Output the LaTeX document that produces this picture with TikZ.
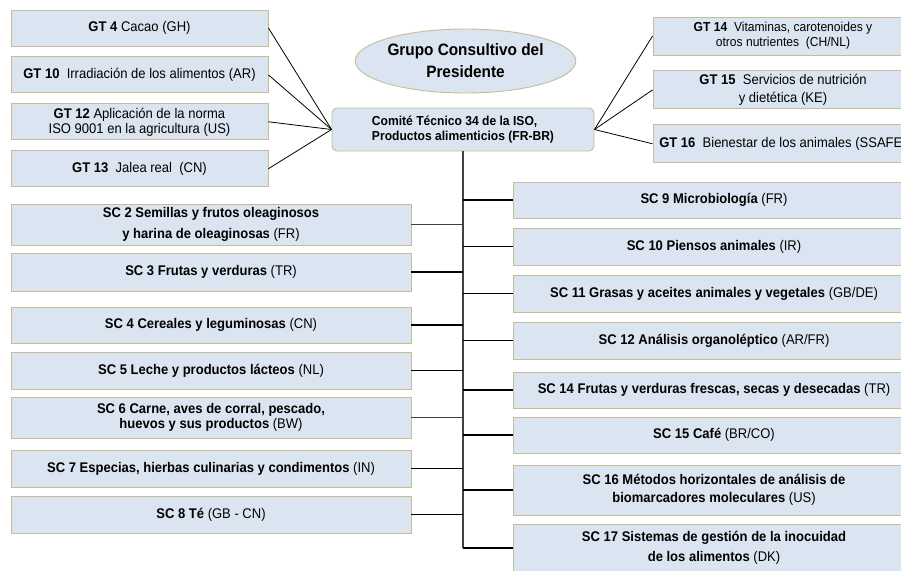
\documentclass[tikz,border=0pt]{standalone}
\usepackage{fontspec}
\setmainfont[FakeStretch=0.93]{Liberation Sans}
\usetikzlibrary{positioning,shapes.geometric}

\definecolor{boxfill}{HTML}{DBE5F1}
\definecolor{boxline}{HTML}{C4BD97}
\definecolor{trunkgray}{HTML}{404040}

\tikzset{
  unit/.style={draw=boxline, fill=boxfill, line width=0.9pt, inner sep=2pt, align=center, font=\fontsize{14}{15}\selectfont},
  gtbox/.style={unit, minimum width=257pt, minimum height=36pt},
  rgtbox/.style={unit, minimum width=260pt, minimum height=38pt},
  lscbox/.style={unit, minimum width=400pt, minimum height=37pt},
  rscbox/.style={unit, minimum width=402pt, minimum height=37pt},
  feed/.style={line width=0.8pt},
  branch/.style={line width=1.6pt},
}

\begin{document}
\begin{tikzpicture}[x=1pt, y=-1pt, node distance=10pt]
  \useasboundingbox (0,0) rectangle (901,570);
  \clip (0,0) rectangle (901,570);

  % top
  \node[ellipse, draw=boxline, fill=boxfill, line width=0.9pt, minimum width=213pt, minimum height=64pt, inner sep=0pt, align=center, font=\bfseries\fontsize{16.5}{22}\selectfont] (gcp) at (465.5,61) {Grupo Consultivo del\\Presidente};
  \node[draw=boxline, fill=boxfill, line width=0.9pt, rounded corners=5pt, minimum width=262pt, minimum height=43pt, align=left, font=\bfseries\fontsize{13}{15}\selectfont] (ctc) at (463,129.5) {Comité Técnico 34 de la ISO,\\Productos alimenticios (FR-BR)};

  % GT left
  \node[gtbox] (gt4) at (139.5,28) {\textbf{GT 4} Cacao (GH)};
  \node[gtbox, below=of gt4] (gt10) {\textbf{GT 10}\ \ Irradiación de los alimentos (AR)};
  \node[gtbox, below=of gt10] (gt12) {\textbf{GT 12} Aplicación de la norma\\ISO 9001 en la agricultura (US)};
  \node[gtbox, below=of gt12] (gt13) {\textbf{GT 13}\ \ Jalea real\ \ (CN)};

  % GT right
  \node[rgtbox, font=\fontsize{13}{15}\selectfont] (gt14) at (783,36) {\textbf{GT 14}\ \ Vitaminas, carotenoides y\\otros nutrientes\ \ (CH/NL)};
  \node[rgtbox, below=15pt of gt14] (gt15) {\textbf{GT 15}\ \ Servicios de nutrición\\[3pt]y dietética (KE)};
  \node[rgtbox, below=15pt of gt15] (gt16) {\textbf{GT 16}\ \ Bienestar de los animales (SSAFE)};

  % SC left
  \node[lscbox, minimum height=41pt] (sc2) at (211,224.5) {\textbf{SC 2 Semillas y frutos oleaginosos}\\[6pt]\textbf{y harina de oleaginosas} (FR)};
  \node[lscbox, minimum height=38pt] (sc3) at (211,272) {\textbf{SC 3 Frutas y verduras} (TR)};
  \node[lscbox, minimum height=36pt] (sc4) at (211,325) {\textbf{SC 4 Cereales y leguminosas} (CN)};
  \node[lscbox] (sc5) at (211,370.5) {\textbf{SC 5 Leche y productos lácteos} (NL)};
  \node[lscbox, minimum height=41pt] (sc6) at (211,417.5) {\textbf{SC 6 Carne, aves de corral, pescado,}\\\textbf{huevos y sus productos} (BW)};
  \node[lscbox] (sc7) at (211,468.5) {\textbf{SC 7 Especias, hierbas culinarias y condimentos} (IN)};
  \node[lscbox] (sc8) at (211,514.5) {\textbf{SC 8 Té} (GB - CN)};

  % SC right
  \node[rscbox, minimum height=36pt] (sc9) at (714,200) {\textbf{SC 9 Microbiología} (FR)};
  \node[rscbox] (sc10) at (714,246.5) {\textbf{SC 10 Piensos animales} (IR)};
  \node[rscbox] (sc11) at (714,293.5) {\textbf{SC 11 Grasas y aceites animales y vegetales} (GB/DE)};
  \node[rscbox] (sc12) at (714,340.5) {\textbf{SC 12 Análisis organoléptico} (AR/FR)};
  \node[rscbox, minimum height=36pt] (sc14) at (714,390) {\textbf{SC 14 Frutas y verduras frescas, secas y desecadas} (TR)};
  \node[rscbox, minimum height=36pt] (sc15) at (714,435) {\textbf{SC 15 Café} (BR/CO)};
  \node[rscbox, minimum height=50pt] (sc16) at (714,490) {\textbf{SC 16 Métodos horizontales de análisis de}\\[3pt]\textbf{biomarcadores moleculares} (US)};
  \node[rscbox, minimum height=48pt] (sc17) at (714,548) {\textbf{SC 17 Sistemas de gestión de la inocuidad}\\[5pt]\textbf{de los alimentos} (DK)};

  % links
  \draw[feed] (gt4.east) -- (ctc.west);
  \draw[feed] (gt10.east) -- (ctc.west);
  \draw[feed] (gt12.east) -- (ctc.west);
  \draw[feed] (gt13.east) -- (ctc.west);
  \draw[feed] (ctc.east) -- (gt14.west);
  \draw[feed] (ctc.east) -- (gt15.west);
  \draw[feed] (ctc.east) -- (gt16.west);

  \draw[branch, trunkgray] (ctc.south) -- (ctc.south |- sc17.west);
  \draw[feed, trunkgray] (sc2.east) -- (sc2.east -| ctc.south);
  \draw[branch] (sc3.east) -- (sc3.east -| ctc.south);
  \draw[branch] (sc4.east) -- (sc4.east -| ctc.south);
  \draw[branch] (sc5.east) -- (sc5.east -| ctc.south);
  \draw[feed, trunkgray] (sc6.east) -- (sc6.east -| ctc.south);
  \draw[branch] (sc7.east) -- (sc7.east -| ctc.south);
  \draw[branch] (sc8.east) -- (sc8.east -| ctc.south);
  \draw[branch] (sc9.west) -- (sc9.west -| ctc.south);
  \draw[branch] (sc10.west) -- (sc10.west -| ctc.south);
  \draw[branch] (sc11.west) -- (sc11.west -| ctc.south);
  \draw[branch] (sc12.west) -- (sc12.west -| ctc.south);
  \draw[branch] (sc14.west) -- (sc14.west -| ctc.south);
  \draw[branch] (sc15.west) -- (sc15.west -| ctc.south);
  \draw[branch] (sc16.west) -- (sc16.west -| ctc.south);
  \draw[branch] (sc17.west) -- (sc17.west -| ctc.south);
\end{tikzpicture}
\end{document}
